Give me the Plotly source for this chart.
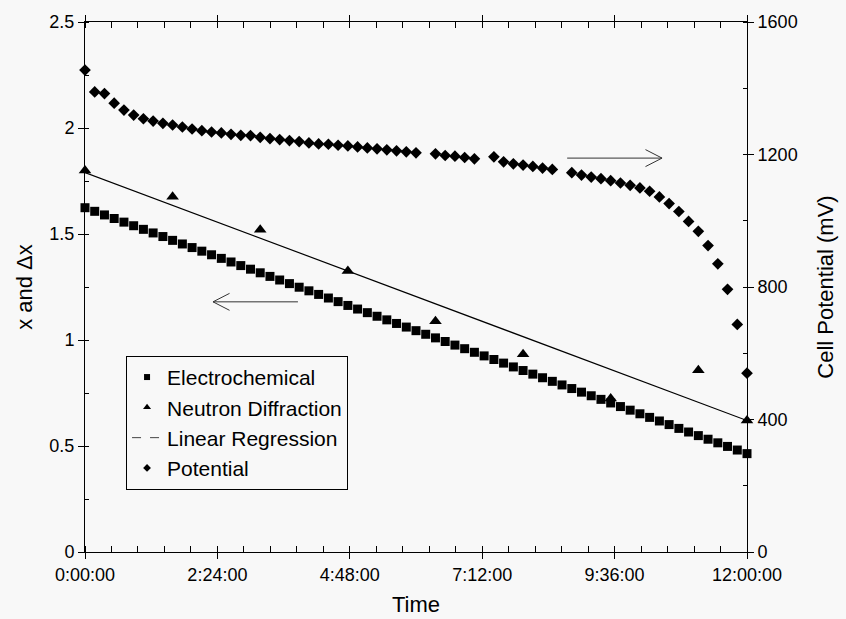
import plotly.graph_objects as go

# Shared sampling times (hours)
time_h = [0.000, 0.176, 0.353, 0.529, 0.706, 0.882, 1.059, 1.235, 1.412, 1.588,
          1.765, 1.941, 2.118, 2.294, 2.471, 2.647, 2.824, 3.000, 3.176, 3.353,
          3.529, 3.706, 3.882, 4.059, 4.235, 4.412, 4.588, 4.765, 4.941, 5.118,
          5.294, 5.471, 5.647, 5.824, 6.000, 6.176, 6.353, 6.529, 6.706, 6.882,
          7.059, 7.235, 7.412, 7.588, 7.765, 7.941, 8.118, 8.294, 8.471, 8.647,
          8.824, 9.000, 9.176, 9.353, 9.529, 9.706, 9.882, 10.059, 10.235, 10.412,
          10.588, 10.765, 10.941, 11.118, 11.294, 11.471, 11.647, 11.824, 12.000]

electrochemical = [1.624, 1.607, 1.590, 1.573, 1.556, 1.539, 1.522, 1.505, 1.488, 1.470,
                   1.453, 1.436, 1.419, 1.402, 1.385, 1.368, 1.351, 1.334, 1.317, 1.300,
                   1.283, 1.266, 1.249, 1.232, 1.215, 1.198, 1.181, 1.163, 1.146, 1.129,
                   1.112, 1.095, 1.078, 1.061, 1.044, 1.027, 1.010, 0.993, 0.976, 0.959,
                   0.942, 0.925, 0.908, 0.891, 0.873, 0.856, 0.839, 0.822, 0.805, 0.788,
                   0.771, 0.754, 0.737, 0.720, 0.703, 0.686, 0.669, 0.652, 0.635, 0.618,
                   0.601, 0.583, 0.566, 0.549, 0.532, 0.515, 0.498, 0.481, 0.464]

potential_mv = [1455, 1389, 1384, 1355, 1334, 1319, 1308, 1301, 1294, 1289,
                1283, 1277, 1272, 1268, 1265, 1261, 1258, 1257, 1252, 1248,
                1245, 1242, 1239, 1235, 1232, 1231, 1228, 1226, 1223, 1220,
                1217, 1214, 1211, 1208, 1205, None, 1202, 1197, 1195, 1191,
                1187, None, 1193, 1178, 1172, 1168, 1164, 1159, 1155, None,
                1145, 1138, 1132, 1127, 1121, 1114, 1107, 1099, 1089, 1072,
                1052, 1028, 998, 968, 925, 870, 793, 687, 540]

neutron_time_h = [0.000, 1.588, 3.176, 4.765, 6.353, 7.941, 9.529, 11.118, 12.000]
neutron_x = [1.799, 1.676, 1.520, 1.326, 1.089, 0.933, 0.724, 0.857, 0.620]

regression_time_h = [0.0, 12.0]
regression_x = [1.790, 0.620]

x_tickvals = [0, 2.4, 4.8, 7.2, 9.6, 12]
x_ticktext = ["0:00:00", "2:24:00", "4:48:00", "7:12:00", "9:36:00", "12:00:00"]

FONT = "Liberation Sans, Arial, sans-serif"
BG = "#f8f8f8"
TICK_SIZE = 18

fig = go.Figure()

# Data traces (legend drawn with small legend-only symbols below)
fig.add_trace(go.Scatter(
    x=time_h, y=electrochemical, mode="markers", showlegend=False,
    marker=dict(symbol="square", size=9, color="black"), cliponaxis=False))
fig.add_trace(go.Scatter(
    x=neutron_time_h, y=neutron_x, mode="markers", showlegend=False,
    marker=dict(symbol="triangle-up", size=11, color="black"), cliponaxis=False))
fig.add_trace(go.Scatter(
    x=regression_time_h, y=regression_x, mode="lines", showlegend=False,
    line=dict(color="black", width=1.2)))
fig.add_trace(go.Scatter(
    x=time_h, y=potential_mv, mode="markers", yaxis="y2", showlegend=False,
    marker=dict(symbol="diamond", size=9, color="black"), cliponaxis=False))

# Legend entries
legend_items = [
    ("Electrochemical", dict(mode="markers", marker=dict(symbol="square", size=6, color="black"))),
    ("Neutron Diffraction", dict(mode="markers", marker=dict(symbol="triangle-up", size=7, color="black"))),
    ("Linear Regression", dict(mode="lines", line=dict(color="#444", width=1, dash="dash"))),
    ("Potential", dict(mode="markers", marker=dict(symbol="diamond", size=6, color="black"))),
]
for i, (name, style) in enumerate(legend_items):
    fig.add_trace(go.Scatter(x=[None], y=[None], name=name, legendgroup=f"g{i}",
                             showlegend=True, **style))

# Direction arrows (open heads)
def arrow(x0, x1, y, head_dx, head_dy):
    shapes = [dict(type="line", xref="x", yref="y", x0=x0, x1=x1, y0=y, y1=y,
                   line=dict(color="#333", width=1))]
    for s in (1, -1):
        shapes.append(dict(type="line", xref="x", yref="y", x0=x1, y0=y,
                           x1=x1 + head_dx, y1=y + s * head_dy,
                           line=dict(color="#333", width=1)))
    return shapes

shapes = arrow(3.86, 2.32, 1.18, 0.30, 0.04) + arrow(8.74, 10.46, 1.858, -0.30, 0.04)

axis_common = dict(showline=True, linecolor="black", linewidth=1, ticks="outside",
                   ticklen=6, tickcolor="black", showgrid=False, zeroline=False,
                   automargin=False,
                   tickfont=dict(family=FONT, size=TICK_SIZE, color="black"))

fig.update_layout(
    width=846, height=619,
    margin=dict(l=85, r=99, t=22, b=67),
    paper_bgcolor=BG, plot_bgcolor=BG,
    font=dict(family=FONT, color="black"),
    shapes=shapes,
    xaxis=dict(**axis_common, range=[0, 12], tickvals=x_tickvals, ticktext=x_ticktext,
               mirror="allticks",
               minor=dict(dtick=0.48, tick0=0, ticks="inside", ticklen=4, tickcolor="black"),
               title=dict(text="Time", font=dict(family=FONT, size=22), standoff=13)),
    yaxis=dict(**axis_common, range=[0, 2.5], dtick=0.5, tick0=0,
               minor=dict(dtick=0.25, ticks="inside", ticklen=4, tickcolor="black"),
               title=dict(text="x and Δx", font=dict(family=FONT, size=22), standoff=10)),
    yaxis2=dict(**axis_common, range=[0, 1600], dtick=400, tick0=0, overlaying="y",
                side="right",
                minor=dict(dtick=200, ticks="inside", ticklen=4, tickcolor="black"),
                title=dict(text="Cell Potential (mV)", font=dict(family=FONT, size=22),
                           standoff=20)),
    legend=dict(x=0.062, y=0.37, xanchor="left", yanchor="top",
                bgcolor=BG, bordercolor="black", borderwidth=1,
                font=dict(family=FONT, size=21, color="black"),
                tracegroupgap=0, itemwidth=30),
    showlegend=True,
)

fig.write_html("out.html")
